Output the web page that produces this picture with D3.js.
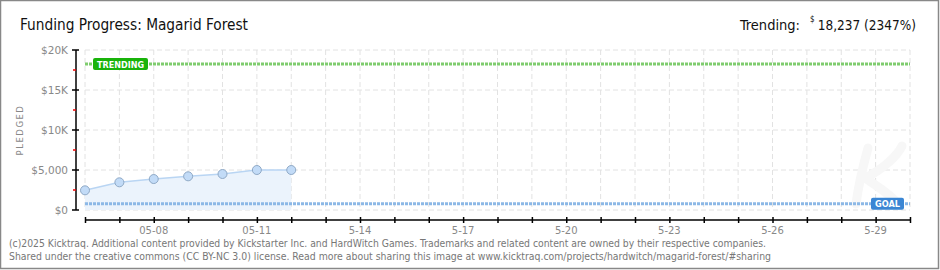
<!DOCTYPE html>
<html>
<head>
<meta charset="utf-8">
<script src="https://cdn.jsdelivr.net/npm/d3@7"></script>
<style>
  body { margin: 0; background: #fff; }
  svg { display: block; }
  .cond { font-family: 'Liberation Sans Narrow', 'DejaVu Sans Condensed', 'Roboto Condensed', sans-serif; font-stretch: condensed; }
</style>
</head>
<body>
<div id="root"></div>
<script>
// data
const days = ["2025-05-06","2025-05-07","2025-05-08","2025-05-09","2025-05-10","2025-05-11","2025-05-12"];
const pledged = [2460, 3460, 3870, 4210, 4500, 5000, 5000];
const xStart = "2025-05-06", xEnd = "2025-05-30";
const xLabelDays = ["2025-05-08","2025-05-11","2025-05-14","2025-05-17","2025-05-20","2025-05-23","2025-05-26","2025-05-29"];
const xLabels = ["05-08","05-11","5-14","5-17","5-20","5-23","5-26","5-29"];
const yTicks = [0, 5000, 10000, 15000, 20000];
const yTickLabels = ["$0","$5,000","$10K","$15K","$20K"];
const yMinor = [2500, 7500, 12500, 17500];
const goal = 777;
const trending = 18237;
const trendPct = "2347%";

const W = 940, H = 270;
const parse = d3.timeParse("%Y-%m-%d");

const svg = d3.select('#root').append('svg')
    .attr('width', W).attr('height', H)

// frame
svg.append('rect').attr('x', 0.5).attr('y', 0.5).attr('width', W - 2).attr('height', H - 2)
    .attr('fill', '#fff').attr('stroke', '#888').attr('stroke-width', 1.5)

const x = d3.scaleTime().domain([parse(xStart), parse(xEnd)]).range([85, 910])
const y = d3.scaleLinear().domain([0, 20000]).range([210, 50])

// title + trending
svg.append('text').attr('class', 'cond').attr('x', 20).attr('y', 30)
    .attr('font-size', 16).attr('fill', '#111')
    .attr('textLength', 228).attr('lengthAdjust', 'spacingAndGlyphs')
    .text('Funding Progress: Magarid Forest')

svg.append('text').attr('class', 'cond').attr('x', 800).attr('y', 30)
    .attr('text-anchor', 'end').attr('font-size', 14.5).attr('fill', '#111').text('Trending:')
svg.append('text').attr('class', 'cond').attr('x', 810).attr('y', 22)
    .attr('font-size', 8).attr('fill', '#111').text('$')
svg.append('text').attr('class', 'cond').attr('x', 916).attr('y', 30)
    .attr('text-anchor', 'end').attr('font-size', 13.5).attr('fill', '#111')
    .text(d3.format(',')(trending) + ' (' + trendPct + ')')

// grid
const allDays = d3.timeDay.range(parse(xStart), d3.timeDay.offset(parse(xEnd), 1))
svg.append('g').selectAll('line').data(allDays).enter().append('line')
    .attr('x1', d => x(d)).attr('x2', d => x(d)).attr('y1', y(20000)).attr('y2', y(0))
    .attr('stroke', '#e2e2e2').attr('stroke-dasharray', '5,3')
svg.append('g').selectAll('line').data(yTicks).enter().append('line')
    .attr('x1', 85).attr('x2', 910).attr('y1', d => y(d)).attr('y2', d => y(d))
    .attr('stroke', '#e2e2e2').attr('stroke-dasharray', '5,3')

// faint watermark (drawn as a shape)
svg.append('path')
    .attr('d', 'M868,148 C862,170 858,188 856,204 M866,178 C880,170 896,158 902,146 M868,180 C880,188 892,196 900,206')
    .attr('fill', 'none').attr('stroke', '#f7f7f7').attr('stroke-width', 9).attr('stroke-linecap', 'round')

// area + line + points
const pts = days.map((d, i) => ({ date: parse(d), v: pledged[i] }))
svg.append('path').datum(pts)
    .attr('d', d3.area().x(d => x(d.date)).y0(y(0)).y1(d => y(d.v)))
    .attr('fill', '#ebf3fc')
svg.append('path').datum(pts)
    .attr('d', d3.line().x(d => x(d.date)).y(d => y(d.v)))
    .attr('fill', 'none').attr('stroke', '#b9d5f3').attr('stroke-width', 1.5)

// goal and trending lines
function refLine(v, color) {
  svg.append('line').attr('x1', 85).attr('x2', 910).attr('y1', y(v)).attr('y2', y(v))
      .attr('stroke', color).attr('stroke-width', 3).attr('stroke-dasharray', '3,1')
}
refLine(trending, '#7fcc6e')
refLine(goal, '#8cb8e6')

svg.append('g').selectAll('circle').data(pts).enter().append('circle')
    .attr('cx', d => x(d.date)).attr('cy', d => y(d.v)).attr('r', 4.5)
    .attr('fill', '#c2dbf7').attr('stroke', '#8fa9c6').attr('stroke-width', 1)

function badge(cx, cy, w, label, color) {
  svg.append('rect').attr('x', cx).attr('y', cy - 6).attr('width', w).attr('height', 12)
      .attr('rx', 2).attr('fill', color)
  svg.append('text').attr('x', cx + w / 2).attr('y', cy + 3.5).attr('text-anchor', 'middle')
      .attr('font-family', 'DejaVu Sans').attr('font-size', 8.5).attr('font-weight', 'bold')
      .attr('textLength', w - 8).attr('lengthAdjust', 'spacingAndGlyphs')
      .attr('fill', '#fff').text(label)
}
badge(93, y(trending), 55, 'TRENDING', '#19b30a')
badge(871, y(goal), 33, 'GOAL', '#3a86d4')

// y axis
const yAxis = svg.append('g').attr('transform', 'translate(76,0)')
yAxis.append('line').attr('y1', y(20000)).attr('y2', y(0)).attr('stroke', '#000').attr('stroke-width', 1.5)
yAxis.selectAll('.maj').data(yTicks).enter().append('line')
    .attr('x1', -4).attr('x2', 3).attr('y1', d => y(d)).attr('y2', d => y(d)).attr('stroke', '#000').attr('stroke-width', 1.5)
yAxis.selectAll('.min').data(yMinor).enter().append('line')
    .attr('x1', -3).attr('x2', 0).attr('y1', d => y(d)).attr('y2', d => y(d)).attr('stroke', '#e00').attr('stroke-width', 1.5)
yAxis.selectAll('text').data(yTicks).enter().append('text')
    .attr('x', -8).attr('y', d => y(d) + 4).attr('text-anchor', 'end')
    .attr('font-family', 'DejaVu Sans').attr('font-size', 10.5).attr('fill', '#888')
    .text((d, i) => yTickLabels[i])

svg.append('text').attr('transform', 'translate(23,130) rotate(-90)')
    .attr('text-anchor', 'middle').attr('font-family', 'DejaVu Sans').attr('font-size', 8.5)
    .attr('letter-spacing', 1.5).attr('fill', '#888').text('PLEDGED')

// x axis
const xAxis = svg.append('g').attr('transform', 'translate(0,220)')
    .call(d3.axisBottom(x).tickValues(allDays).tickSize(3).tickFormat(''))
xAxis.select('.domain').attr('d', `M85,0H910`).attr('stroke-width', 1.5)
xAxis.selectAll('.tick line').attr('y1', -3).attr('stroke-width', 1.5)
svg.append('g').selectAll('text').data(xLabelDays).enter().append('text')
    .attr('x', d => x(parse(d))).attr('y', 234).attr('text-anchor', 'middle')
    .attr('font-family', 'DejaVu Sans').attr('font-size', 10).attr('fill', '#888')
    .text((d, i) => xLabels[i])

// footer
const foot = ["(c)2025 Kicktraq. Additional content provided by Kickstarter Inc. and HardWitch Games. Trademarks and related content are owned by their respective companies.",
  "Shared under the creative commons (CC BY-NC 3.0) license. Read more about sharing this image at www.kicktraq.com/projects/hardwitch/magarid-forest/#sharing"]
const footLen = [757, 762]
svg.append('g').selectAll('text').data(foot).enter().append('text')
    .attr('class', 'cond').attr('x', 9).attr('y', (d, i) => 247 + i * 12.5)
    .attr('font-size', 10.5).attr('fill', '#777')
    .attr('textLength', (d, i) => footLen[i]).attr('lengthAdjust', 'spacingAndGlyphs')
    .text(d => d)
</script>
</body>
</html>
